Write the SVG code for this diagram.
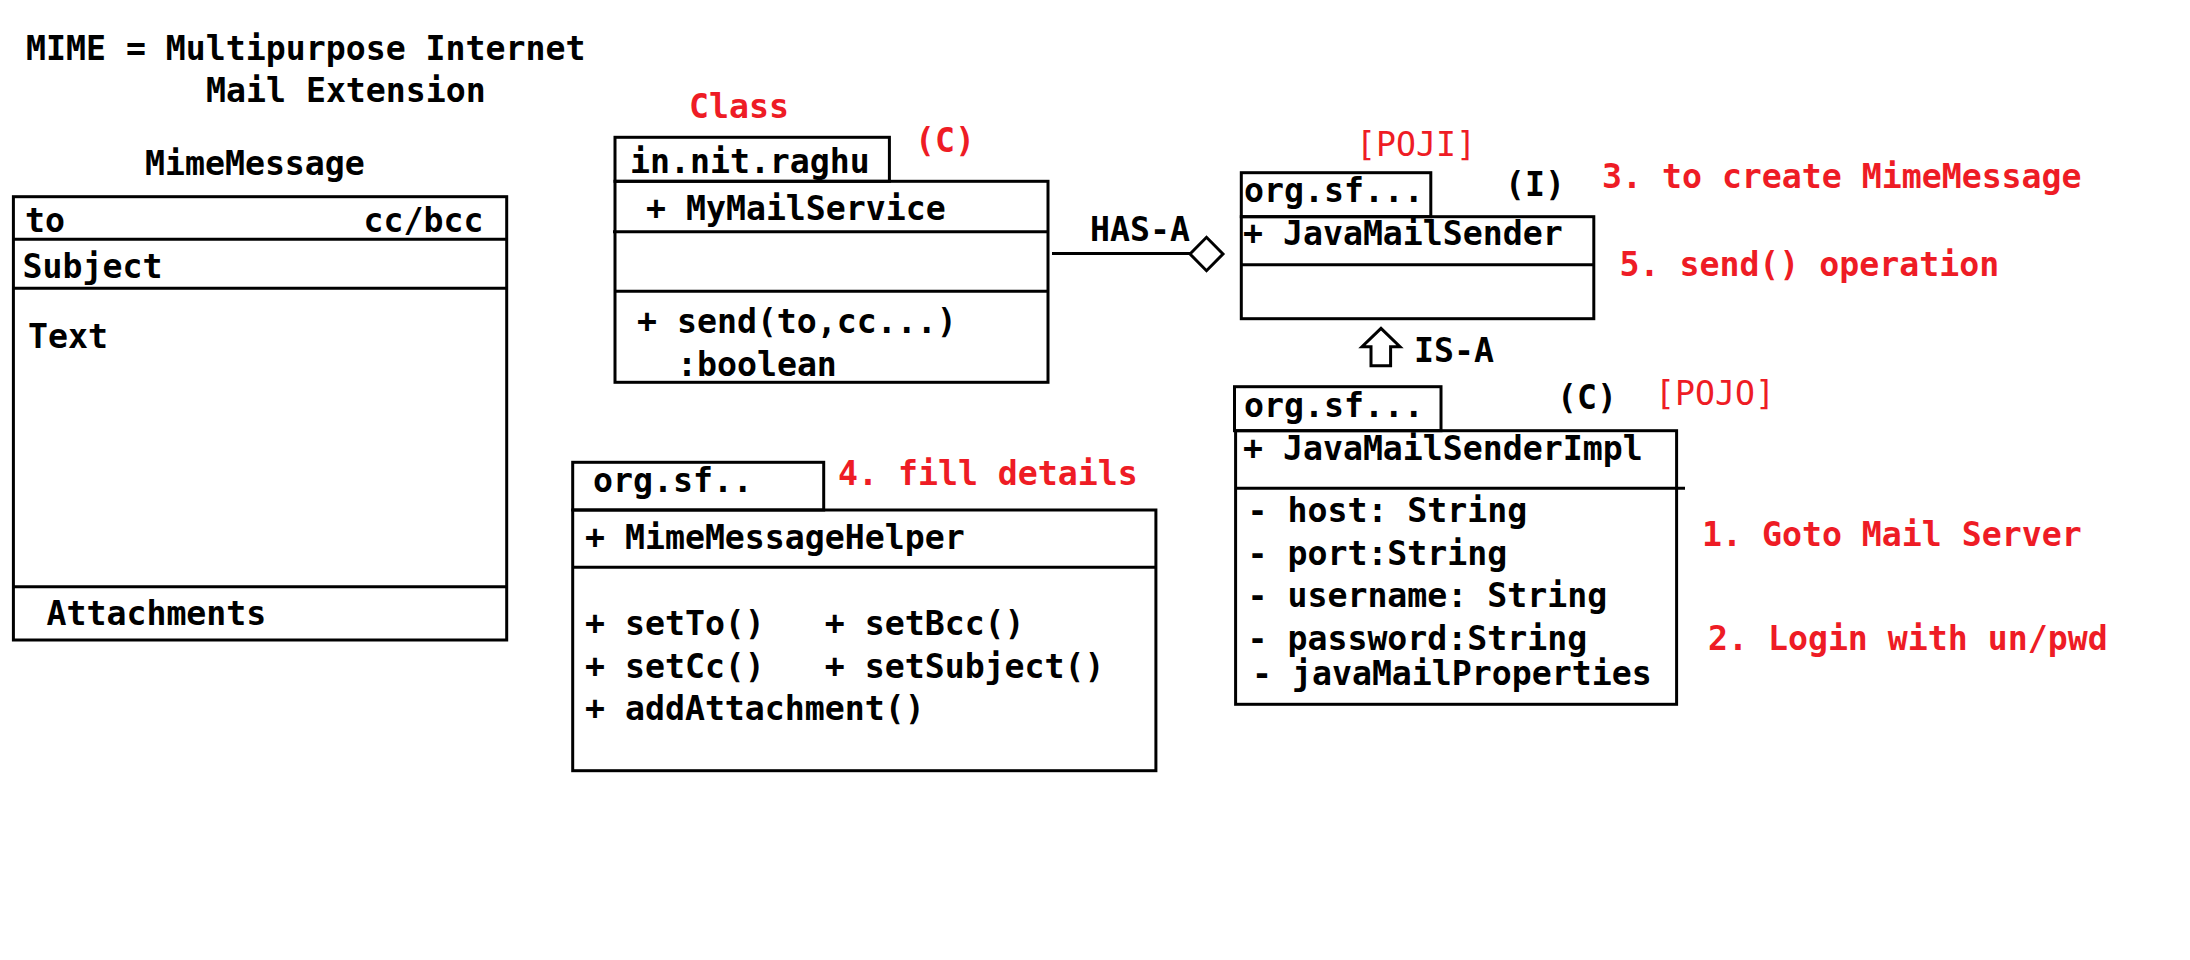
<svg xmlns="http://www.w3.org/2000/svg" width="2190" height="960" viewBox="0 0 2190 960">
<style>
  .box { fill: none; stroke: #000; stroke-width: 3; }
  .ln { stroke: #000; stroke-width: 3; fill: none; }
  text { font-family: "DejaVu Sans Mono", "Liberation Mono", monospace; font-size: 33.2px; font-weight: bold; fill: #000; white-space: pre; }
  .red { fill: #ee1c25; }
  .thin { font-weight: normal; }
</style>
<rect x="0" y="0" width="2190" height="960" fill="#fff"/>

<g id="title">
  <text x="26" y="60">MIME = Multipurpose Internet</text>
  <text x="206" y="101.7">Mail Extension</text>
</g>

<g id="mimemessage">
  <text x="145" y="175">MimeMessage</text>
  <rect class="box" x="13.4" y="196.7" width="493.3" height="443.3"/>
  <line class="ln" x1="13.4" y1="239.3" x2="506.7" y2="239.3"/>
  <line class="ln" x1="13.4" y1="288.3" x2="506.7" y2="288.3"/>
  <line class="ln" x1="12" y1="586.7" x2="506.7" y2="586.7"/>
  <text x="25" y="231.7">to</text>
  <text x="363.5" y="231.7">cc/bcc</text>
  <text x="22.5" y="277.7">Subject</text>
  <text x="28" y="348.3">Text</text>
  <text x="46.5" y="625">Attachments</text>
</g>

<g id="mymailservice">
  <text class="red" x="689" y="118.3">Class</text>
  <text class="red" x="915" y="152">(C)</text>
  <rect class="box" x="615" y="137.3" width="274.4" height="44"/>
  <text x="630" y="172.7">in.nit.raghu</text>
  <rect class="box" x="615" y="181.3" width="433" height="201"/>
  <line class="ln" x1="613" y1="231.7" x2="1049" y2="231.7"/>
  <line class="ln" x1="615" y1="291.3" x2="1049" y2="291.3"/>
  <text x="646" y="220">+ MyMailService</text>
  <text x="637" y="332.7">+ send(to,cc...)</text>
  <text x="677" y="376">:boolean</text>
</g>

<g id="javamailsender">
  <text class="red thin" x="1356" y="156">[POJI]</text>
  <text x="1505" y="195.5">(I)</text>
  <rect class="box" x="1241.3" y="172.7" width="189.5" height="44"/>
  <text x="1244" y="201.7">org.sf...</text>
  <rect class="box" x="1241.3" y="216.7" width="352.5" height="102"/>
  <line class="ln" x1="1241.3" y1="264.7" x2="1593.8" y2="264.7"/>
  <text x="1243" y="245">+ JavaMailSender</text>
</g>

<g id="javamailsenderimpl">
  <text x="1557" y="409">(C)</text>
  <text class="red thin" x="1655" y="405">[POJO]</text>
  <rect class="box" x="1234.5" y="386.7" width="206.5" height="44"/>
  <text x="1244" y="416.7">org.sf...</text>
  <rect class="box" x="1235.6" y="430.7" width="441" height="273.6"/>
  <line class="ln" x1="1235.6" y1="488.3" x2="1685" y2="488.3"/>
  <text x="1243" y="460">+ JavaMailSenderImpl</text>
  <text x="1247.5" y="521.7">- host: String</text>
  <text x="1247.5" y="565">- port:String</text>
  <text x="1247.5" y="607.3">- username: String</text>
  <text x="1247.5" y="650">- password:String</text>
  <text x="1252" y="685">- javaMailProperties</text>
</g>

<g id="mimemessagehelper">
  <rect class="box" x="572.7" y="462.3" width="251" height="47.7"/>
  <text x="593" y="491.7">org.sf..</text>
  <text class="red" x="838" y="485">4. fill details</text>
  <rect class="box" x="572.7" y="510" width="583.2" height="260.7"/>
  <line class="ln" x1="572.7" y1="567.3" x2="1155.9" y2="567.3"/>
  <text x="585" y="549.3">+ MimeMessageHelper</text>
  <text x="585" y="635">+ setTo()   + setBcc()</text>
  <text x="585" y="678.3">+ setCc()   + setSubject()</text>
  <text x="585" y="720">+ addAttachment()</text>
</g>

<g id="notes">
  <text class="red" x="1602" y="188.3">3. to create MimeMessage</text>
  <text class="red" x="1619.5" y="275.7">5. send() operation</text>
  <text class="red" x="1702" y="545.7">1. Goto Mail Server</text>
  <text class="red" x="1708" y="650">2. Login with un/pwd</text>
</g>

<g id="connectors">
  <g id="has-a">
    <line class="ln" x1="1052" y1="253.5" x2="1190" y2="253.5"/>
    <polygon points="1190,254 1206.5,237.3 1223,254 1206.5,270.7" fill="#fff" stroke="#000" stroke-width="3"/>
    <text x="1090" y="240.7">HAS-A</text>
  </g>
  <g id="is-a">
    <polygon points="1381,328.3 1400,346.7 1390.6,346.7 1390.6,365.7 1371,365.7 1371,346.7 1362,346.7" fill="#fff" stroke="#000" stroke-width="3" stroke-linejoin="miter"/>
    <text x="1414" y="362.3">IS-A</text>
  </g>
</g>
</svg>
